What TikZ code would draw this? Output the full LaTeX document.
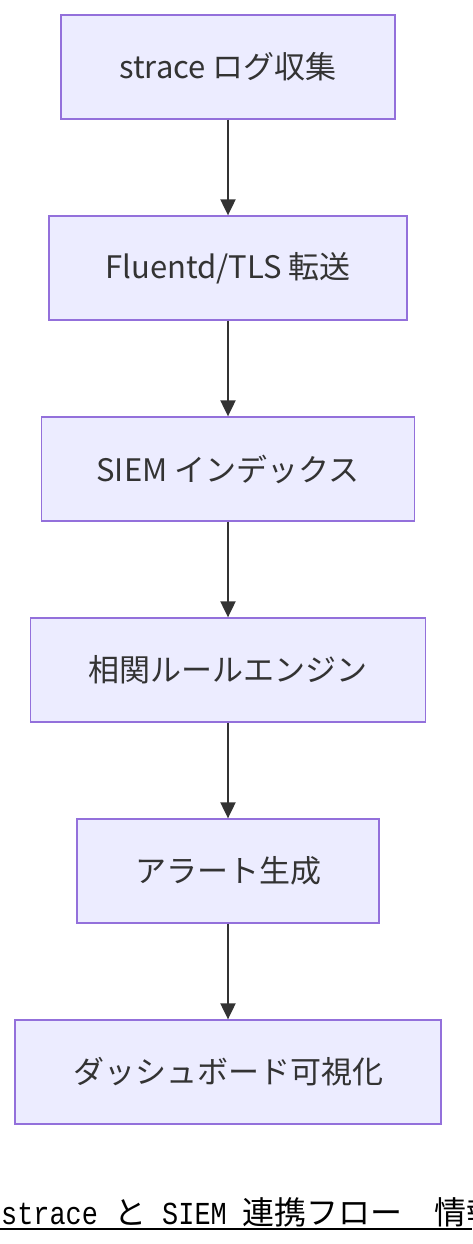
\documentclass[tikz,border=0pt]{standalone}
\usepackage{fontspec}
\setmainfont{Noto Sans CJK JP}
\newfontfamily\capmono[FakeStretch=0.84]{Liberation Mono}
\newfontfamily\capjp{Noto Sans CJK JP}
\usetikzlibrary{arrows.meta}
\definecolor{boxfill}{HTML}{ECECFF}
\definecolor{boxline}{HTML}{9370DB}
\definecolor{ink}{HTML}{333333}
\tikzset{
  stepbox/.style={draw=boxline, fill=boxfill, line width=1.3pt, text=ink,
    minimum height=104pt, inner sep=0pt, font=\fontsize{31}{36}\selectfont},
  flow/.style={draw=ink, line width=2pt, -{Triangle[length=16pt,width=15pt]}},
}
\begin{document}
\begin{tikzpicture}[x=1pt,y=-1pt]
\useasboundingbox (0,0) rectangle (472,1244);
\node[stepbox, minimum width=334pt] (a) at (228,67) {strace ログ収集};
\node[stepbox, minimum width=358pt] (b) at (228,268) {Fluentd/TLS 転送};
\node[stepbox, minimum width=373pt] (c) at (228,469) {SIEM インデックス};
\node[stepbox, minimum width=395pt] (d) at (228,670) {相関ルールエンジン};
\node[stepbox, minimum width=302pt] (e) at (228,871) {アラート生成};
\node[stepbox, minimum width=426pt] (f) at (228,1072) {ダッシュボード可視化};
\draw[flow] (a) -- (b);
\draw[flow] (b) -- (c);
\draw[flow] (c) -- (d);
\draw[flow] (d) -- (e);
\draw[flow] (e) -- (f);
\begin{scope}
\clip (0,1180) rectangle (472,1244);
\node[anchor=base west, inner sep=0pt, text=black, font=\fontsize{32}{36}\selectfont] (cap) at (1,1224)
  {{\capmono strace }{\capjp と}{\capmono\ SIEM }{\capjp 連携フロー　情報}};
\draw[black, line width=2pt] (0,1229) -- (472,1229);
\end{scope}
\end{tikzpicture}
\end{document}
